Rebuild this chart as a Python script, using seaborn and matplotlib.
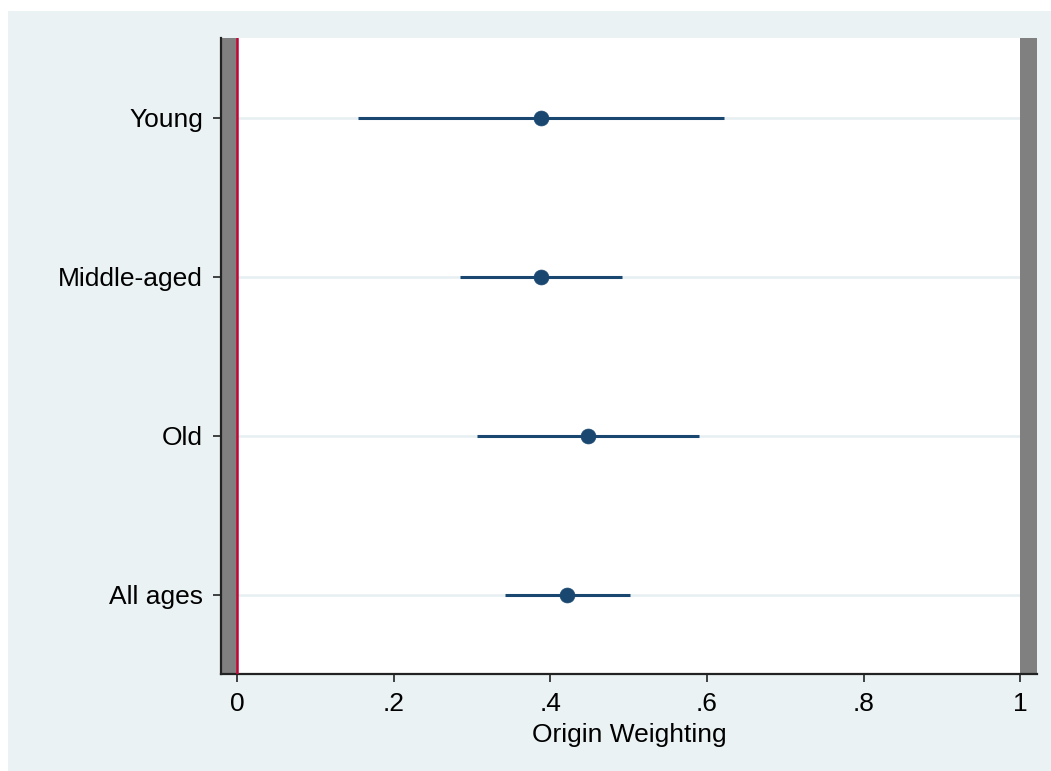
import matplotlib
matplotlib.use("Agg")
import matplotlib.pyplot as plt
import matplotlib.patches as mpatches
import numpy as np
import pandas as pd
import seaborn as sns

# Estimates with 95% confidence bounds by age group
groups = ["Young", "Middle-aged", "Old", "All ages"]
estimate = [0.388, 0.388, 0.448, 0.421]
ci_low = [0.154, 0.284, 0.306, 0.342]
ci_high = [0.622, 0.491, 0.590, 0.501]

xticks = [0, 0.2, 0.4, 0.6, 0.8, 1.0]
xtick_labels = ["0", ".2", ".4", ".6", ".8", "1"]

sns.set_theme(style="white")
plt.rcParams["font.family"] = ["Liberation Sans", "DejaVu Sans"]

navy = "#1a476f"
bg = "#eaf2f3"

df = pd.DataFrame({
    "group": groups,
    "pos": np.arange(len(groups)),
    "estimate": estimate,
    "lo": ci_low,
    "hi": ci_high,
})

fig = plt.figure(figsize=(10.51, 7.71), dpi=100)
fig.patch.set_facecolor("white")
fig.patches.append(mpatches.Rectangle((8 / 1051, -0.02), 1.02, 1.02 - 11 / 771,
                                      transform=fig.transFigure,
                                      facecolor=bg, edgecolor="none", zorder=-10))

ax = fig.add_axes([221 / 1051, 1 - 674 / 771, (1037 - 221) / 1051, (674 - 38) / 771])
ax.set_facecolor("white")

xmin, xmax = -0.021, 1.0217
ax.set_xlim(xmin, xmax)
ax.set_ylim(len(groups) - 0.5, -0.5)

# light horizontal guides at each group
for p in df["pos"]:
    ax.axhline(p, color="#e6eff1", lw=1.8, zorder=1)

# shaded regions outside the [0, 1] range
ax.axvspan(xmin, 0, color="#808080", lw=0, zorder=2)
ax.axvspan(1, xmax, color="#808080", lw=0, zorder=2)
ax.axvline(0, color="#c10534", lw=1.8, zorder=3)

ax.hlines(df["pos"], df["lo"], df["hi"], color=navy, lw=2.2, zorder=4)
sns.scatterplot(data=df, x="estimate", y="pos", ax=ax, color=navy, s=115,
                edgecolor=navy, linewidth=0.5, zorder=5, legend=False)

ax.set_yticks(df["pos"])
ax.set_yticklabels(groups)
ax.set_xticks(xticks)
ax.set_xticklabels(xtick_labels)
ax.set_ylabel("")
ax.set_xlabel("Origin Weighting", fontsize=19, color="black", labelpad=5)

for side in ["top", "right"]:
    ax.spines[side].set_visible(False)
for side in ["left", "bottom"]:
    ax.spines[side].set_color("#222222")
    ax.spines[side].set_linewidth(1.6)

ax.tick_params(axis="both", which="major", direction="out", length=6, width=1.2,
               color="#222222", labelsize=19, labelcolor="black",
               left=True, bottom=True, pad=7)

fig.savefig("out.png", dpi=100, facecolor=fig.get_facecolor())
